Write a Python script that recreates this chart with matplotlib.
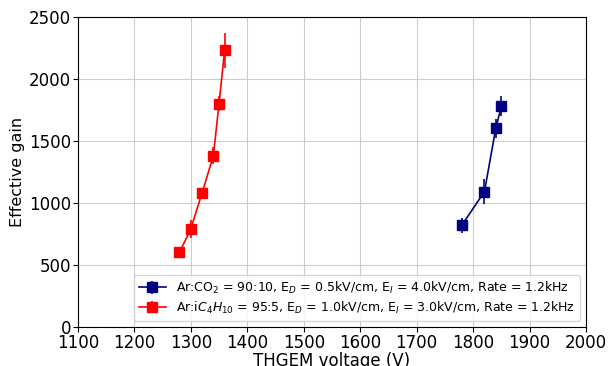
import matplotlib
matplotlib.use("Agg")
import matplotlib.pyplot as plt

# Ar:CO2 90:10
co2_v = [1780, 1820, 1840, 1850]
co2_gain = [820, 1090, 1600, 1780]
co2_err = [60, 100, 80, 80]

# Ar:iC4H10 95:5
ibu_v = [1280, 1300, 1320, 1340, 1350, 1360]
ibu_gain = [600, 790, 1080, 1380, 1800, 2230]
ibu_err = [20, 70, 40, 70, 60, 140]

fig = plt.figure(figsize=(6.08, 3.66), dpi=100)
ax = fig.add_axes([0.128, 0.107, 0.836, 0.847])

ax.errorbar(co2_v, co2_gain, yerr=co2_err, color="navy", marker="s", markersize=7,
            lw=1.2, label=r"Ar:CO$_2$ = 90:10, E$_D$ = 0.5kV/cm, E$_I$ = 4.0kV/cm, Rate = 1.2kHz")
ax.errorbar(ibu_v, ibu_gain, yerr=ibu_err, color="red", marker="s", markersize=7,
            lw=1.2, label=r"Ar:i$C_4H_{10}$ = 95:5, E$_D$ = 1.0kV/cm, E$_I$ = 3.0kV/cm, Rate = 1.2kHz")

ax.set_xlim(1100, 2000)
ax.set_ylim(0, 2500)
ax.set_xticks(range(1100, 2001, 100))
ax.set_yticks(range(0, 2501, 500))
ax.tick_params(labelsize=12, pad=1.5)
ax.grid(True, color="#cccccc", lw=0.8)
ax.set_axisbelow(True)
ax.set_xlabel("THGEM voltage (V)", fontsize=12)
ax.set_ylabel("Effective gain", fontsize=11.5)
ax.xaxis.set_label_coords(0.5, -0.08)
ax.yaxis.set_label_coords(-0.104, 0.5)
ax.legend(loc="lower right", fontsize=9, handlelength=2.2, borderaxespad=0.5,
          labelspacing=0.3)

fig.savefig("out.png", dpi=100)
